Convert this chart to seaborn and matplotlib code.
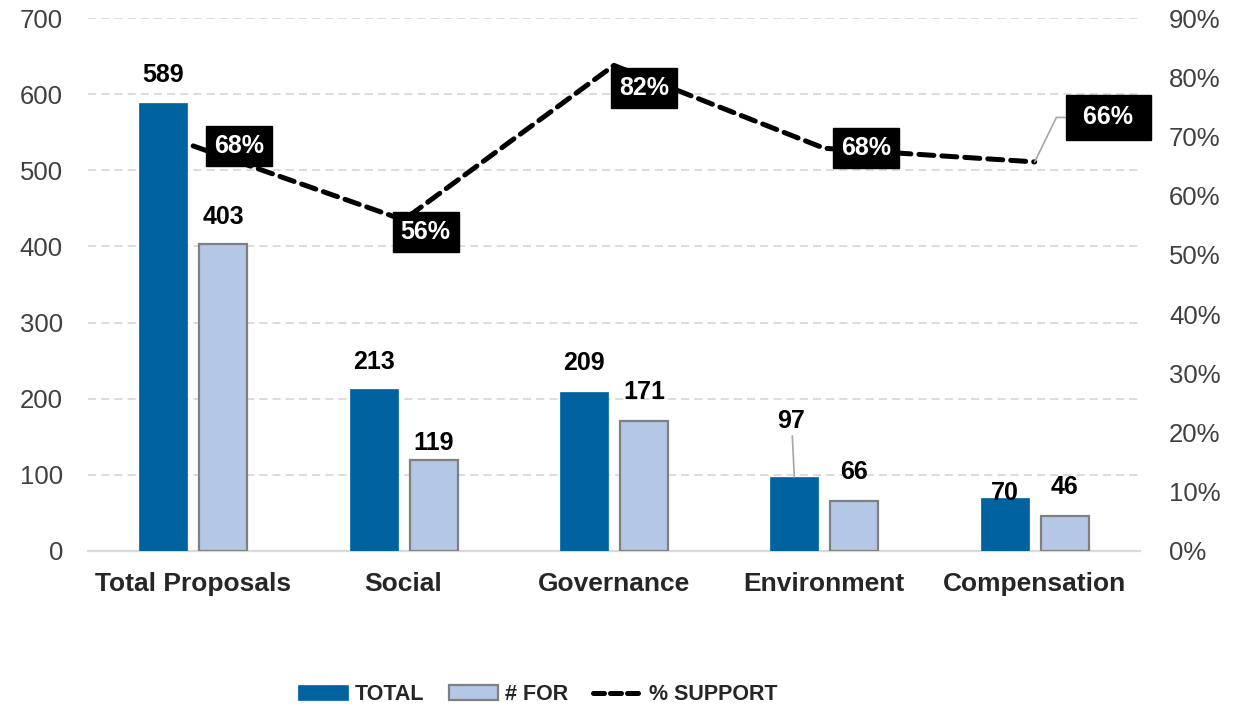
import matplotlib
matplotlib.use("Agg")
import matplotlib.pyplot as plt
from matplotlib.patches import Patch
from matplotlib.lines import Line2D
from matplotlib.ticker import FuncFormatter
import pandas as pd
import seaborn as sns

# Shareholder proposals by category
categories = ["Total Proposals", "Social", "Governance", "Environment", "Compensation"]
total_counts = [589, 213, 209, 97, 70]
for_counts = [403, 119, 171, 66, 46]
support_pct = [68.4, 55.9, 82.0, 68.0, 65.7]
series_names = ["TOTAL", "# FOR", "% SUPPORT"]

left_ticks = [0, 100, 200, 300, 400, 500, 600, 700]
right_ticks = [0, 10, 20, 30, 40, 50, 60, 70, 80, 90]

DARK = "#00639F"
LIGHT = "#B4C7E7"
EDGE = "#808080"
GRID = "#D9D9D9"
TICK = "#404040"

sns.set_theme(style="white")
plt.rcParams["font.family"] = ["Liberation Sans", "DejaVu Sans"]

df = pd.DataFrame({
    "category": categories * 2,
    "count": total_counts + for_counts,
    "series": [series_names[0]] * len(categories) + [series_names[1]] * len(categories),
})

fig = plt.figure(figsize=(12.39, 7.09), dpi=100)
ax = fig.add_axes([0.071, 0.2229, 0.849, 0.7517])

sns.barplot(data=df, x="category", y="count", hue="series", order=categories,
            hue_order=series_names[:2], palette=[DARK, LIGHT], saturation=1,
            width=0.57, gap=0.2, ax=ax, legend=False, zorder=3)

total_bars, for_bars = ax.containers[0], ax.containers[1]
for b in total_bars:
    b.set_edgecolor(DARK)
    b.set_linewidth(0.5)
for b in for_bars:
    b.set_edgecolor(EDGE)
    b.set_linewidth(1.6)

ax.set_xlim(-0.5, 4.5)
ax.set_ylim(0, 700)
ax.set_yticks(left_ticks)
ax.yaxis.grid(True, linestyle=(0, (4.5, 2.8)), color=GRID, linewidth=1.3, zorder=0)
ax.set_axisbelow(True)
ax.set_xlabel("")
ax.set_ylabel("")
for s in ["top", "left", "right"]:
    ax.spines[s].set_visible(False)
ax.spines["bottom"].set_color(GRID)
ax.spines["bottom"].set_linewidth(1.6)
ax.tick_params(axis="y", length=0, pad=18, labelsize=18.5, labelcolor=TICK)
ax.tick_params(axis="x", length=0, pad=15)
for lbl in ax.get_xticklabels():
    lbl.set_fontsize(19)
    lbl.set_fontweight("bold")
    lbl.set_color("#262626")

# value labels above the bars (vertical gap in points)
total_gap = [11, 11, 12, 32, -5]
for_gap = [11, 4, 12, 12, 12]
for bars, gaps in ((total_bars, total_gap), (for_bars, for_gap)):
    for b, g in zip(bars, gaps):
        xc = b.get_x() + b.get_width() / 2
        h = b.get_height()
        lead = dict(arrowstyle="-", color="#A6A6A6", lw=1.2, shrinkA=0, shrinkB=0) if g > 20 else None
        ax.annotate(f"{h:.0f}", xy=(xc, h), xytext=(-2 if g > 20 else 0, g),
                    textcoords="offset points", ha="center", va="bottom",
                    fontsize=18, fontweight="bold", color="black",
                    arrowprops=lead, zorder=5)

# support rate on the secondary axis
ax2 = ax.twinx()
xpos = list(range(len(categories)))
sns.lineplot(x=xpos, y=[v / 100 for v in support_pct], ax=ax2, color="black",
             linewidth=3.6, linestyle=(0, (3, 1.6)), dash_capstyle="round", zorder=4)
ax2.set_ylim(0, 0.9)
ax2.set_yticks([t / 100 for t in right_ticks])
ax2.yaxis.set_major_formatter(FuncFormatter(lambda v, p: f"{v * 100:.0f}%"))
ax2.tick_params(axis="y", length=0, pad=21, labelsize=18.5, labelcolor=TICK)
ax2.set_ylabel("")
for s in ["top", "left", "right", "bottom"]:
    ax2.spines[s].set_visible(False)

box_offsets = [(33, 0), (16, -9), (22, -16), (30, 0), (53, 32)]
for i, (v, off) in enumerate(zip(support_pct, box_offsets)):
    lead = None
    text = f"{v:.0f}%"
    pad = 0.32
    if i == 4:
        lead = dict(arrowstyle="-", color="#A6A6A6", lw=1.2, shrinkA=0, shrinkB=0,
                    connectionstyle="angle,angleA=0,angleB=64,rad=0")
        text = f" {text} "
        pad = 0.42
    ax2.annotate(text, xy=(i, v / 100), xytext=off, textcoords="offset points",
                 ha="center", va="center", fontsize=18, fontweight="bold", color="white",
                 bbox=dict(boxstyle=f"square,pad={pad}", facecolor="black", edgecolor="black"),
                 arrowprops=lead, zorder=6)

handles = [
    Patch(facecolor=DARK, edgecolor=DARK, linewidth=0.5),
    Patch(facecolor=LIGHT, edgecolor=EDGE, linewidth=1.6),
    Line2D([0], [0], color="black", linewidth=3.6, linestyle=(0, (2.2, 1.2)),
           dash_capstyle="round"),
]
leg = fig.legend(handles, series_names, loc="center", bbox_to_anchor=(0.434, 0.02),
                 ncol=3, frameon=False, handlelength=2.3, handleheight=0.7,
                 handletextpad=0.3, columnspacing=1.15,
                 prop={"size": 15.5, "weight": "bold"})
for t in leg.get_texts():
    t.set_color("#262626")

fig.savefig("out.png", dpi=100)
